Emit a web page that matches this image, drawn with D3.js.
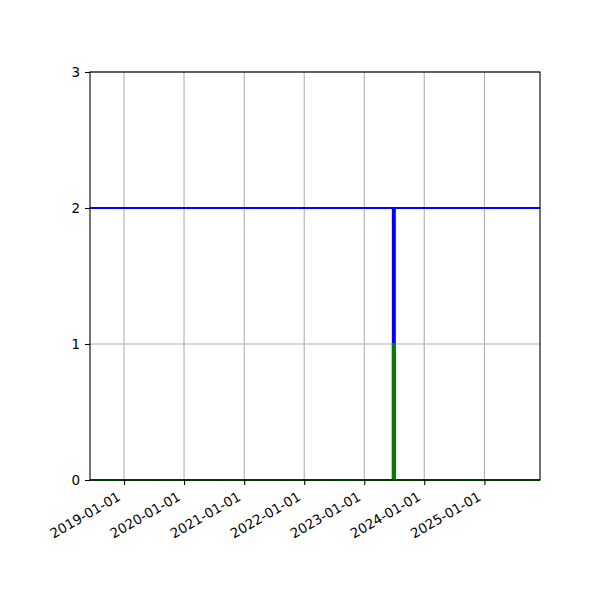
<!DOCTYPE html>
<html lang="en">
<head>
    <meta charset="UTF-8">
    <title>Step chart</title>
    <script src="https://d3js.org/d3.v7.min.js"></script>
    <style>
        body { margin: 0; background: #fff; font-family: 'DejaVu Sans', sans-serif; }
        svg text { font-family: 'DejaVu Sans', sans-serif; font-size: 13.5px; fill: #000; }
    </style>
</head>
<body>
<svg id="chart" width="600" height="600"></svg>
<script>
    // data
    const dates = ["2018-06-08", "2023-06-24", "2023-06-24", "2023-07-06", "2023-07-06", "2025-12-05"];
    const blueValues = [2, 2, 0, 0, 2, 2];
    const greenValues = [0, 0, 1, 1, 0, 0];
    const xTickLabels = ["2019-01-01", "2020-01-01", "2021-01-01", "2022-01-01", "2023-01-01", "2024-01-01", "2025-01-01"];
    const yTicks = [0, 1, 2, 3];

    const parse = d3.timeParse("%Y-%m-%d");
    const margin = { left: 90, right: 60, top: 72, bottom: 120 };
    const width = 600, height = 600;

    const svg = d3.select("#chart");

    const x = d3.scaleTime()
        .domain([parse("2018-06-08"), parse("2025-12-05")])
        .range([margin.left, width - margin.right]);
    const y = d3.scaleLinear()
        .domain([0, 3])
        .range([height - margin.bottom, margin.top]);

    // grid
    const grid = svg.append("g");
    grid.selectAll(".vgrid")
        .data(xTickLabels)
        .enter()
        .append("line")
        .attr("x1", d => x(parse(d)))
        .attr("x2", d => x(parse(d)))
        .attr("y1", y(0))
        .attr("y2", y(3))
        .attr("stroke", "#b0b0b0")
        .attr("stroke-width", 1.1);
    grid.selectAll(".hgrid")
        .data(yTicks)
        .enter()
        .append("line")
        .attr("x1", margin.left)
        .attr("x2", width - margin.right)
        .attr("y1", d => y(d))
        .attr("y2", d => y(d))
        .attr("stroke", "#b0b0b0")
        .attr("stroke-width", 1.1);

    const line = (vals) => d3.line()
        .x((d, i) => x(parse(dates[i])))
        .y(d => y(d))(vals);

    const plot = svg.append("g");
    plot.append("path")
        .attr("d", line(blueValues))
        .attr("fill", "none")
        .attr("stroke", "blue")
        .attr("stroke-width", 2);
    plot.append("path")
        .attr("d", line(greenValues))
        .attr("fill", "none")
        .attr("stroke", "green")
        .attr("stroke-width", 2);

    // axes
    const xAxis = svg.append("g")
        .attr("transform", `translate(0,${height - margin.bottom})`)
        .call(d3.axisBottom(x)
            .tickValues(xTickLabels.map(parse))
            .tickFormat(d3.timeFormat("%Y-%m-%d"))
            .tickSize(5)
            .tickPadding(4));
    xAxis.select(".domain").remove();
    xAxis.selectAll("line").attr("stroke", "#000").attr("stroke-width", 1.1);
    xAxis.selectAll("text")
        .attr("text-anchor", "end")
        .attr("dy", null)
        .attr("y", 0)
        .attr("transform", "translate(-5,16) rotate(-30)")
        .attr("dominant-baseline", "middle");

    const yAxis = svg.append("g")
        .attr("transform", `translate(${margin.left},0)`)
        .call(d3.axisLeft(y)
            .tickValues(yTicks)
            .tickFormat(d3.format("d"))
            .tickSize(5)
            .tickPadding(5));
    yAxis.select(".domain").remove();
    yAxis.selectAll("line").attr("stroke", "#000").attr("stroke-width", 1.1);

    // frame
    svg.append("rect")
        .attr("x", margin.left)
        .attr("y", margin.top)
        .attr("width", width - margin.left - margin.right)
        .attr("height", height - margin.top - margin.bottom)
        .attr("fill", "none")
        .attr("stroke", "#000")
        .attr("stroke-width", 1.1);
</script>
</body>
</html>
